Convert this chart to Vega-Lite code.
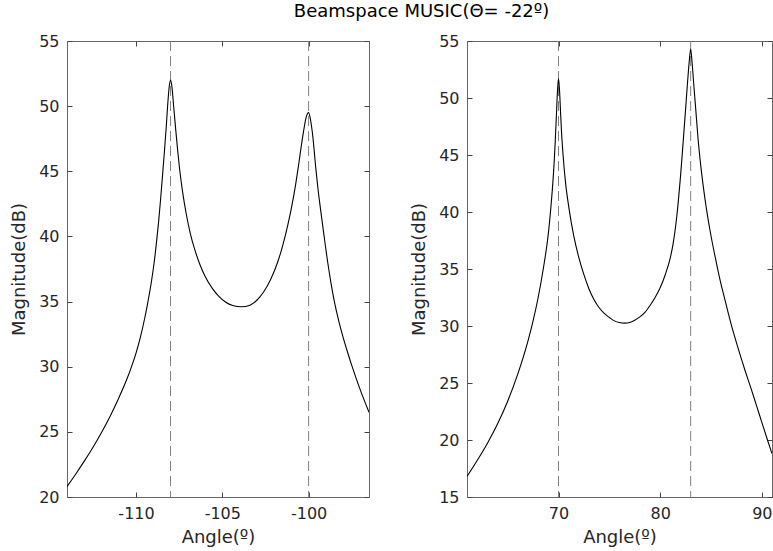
{
  "$schema": "https://vega.github.io/schema/vega-lite/v6.json",
  "background": "white",
  "padding": {"left": 10, "top": 2, "right": 2, "bottom": 0},
  "title": {"text": "Beamspace MUSIC(Θ= -22º)", "fontSize": 18, "font": "DejaVu Sans", "fontWeight": "normal", "color": "#000000", "anchor": "middle", "dx": 30, "offset": 12},
  "config": {
    "view": {"stroke": "#666666", "strokeWidth": 1},
    "concat": {"spacing": 40},
    "axis": {"grid": false, "domain": false, "labelFont": "DejaVu Sans", "labelFontSize": 16, "labelColor": "#262626", "titleFont": "DejaVu Sans", "titleFontSize": 18, "titleFontWeight": "normal", "titleColor": "#262626", "tickColor": "#444444", "tickSize": 5, "offset": -5, "labelFlush": false, "labelOverlap": false, "labelPadding": 8, "titlePadding": 10},
    "axisX": {"titlePadding": 7}
  },
  "datasets": {
    "left": [
      {"angle": -114.0, "mag": 20.8}, {"angle": -113.5, "mag": 21.75}, {"angle": -113.0, "mag": 22.75}, {"angle": -112.5, "mag": 23.8},
      {"angle": -112.0, "mag": 24.95}, {"angle": -111.5, "mag": 26.2}, {"angle": -111.0, "mag": 27.6}, {"angle": -110.5, "mag": 29.15},
      {"angle": -110.25, "mag": 30.05}, {"angle": -110.0, "mag": 31.05}, {"angle": -109.75, "mag": 32.25}, {"angle": -109.5, "mag": 33.7},
      {"angle": -109.33, "mag": 34.85}, {"angle": -109.1, "mag": 36.6}, {"angle": -108.95, "mag": 38.0}, {"angle": -108.81, "mag": 39.6},
      {"angle": -108.7, "mag": 41.0}, {"angle": -108.58, "mag": 42.8}, {"angle": -108.46, "mag": 44.75}, {"angle": -108.35, "mag": 46.6},
      {"angle": -108.25, "mag": 48.4}, {"angle": -108.17, "mag": 50.0}, {"angle": -108.08, "mag": 51.45}, {"angle": -108.0, "mag": 52.0},
      {"angle": -107.92, "mag": 51.5}, {"angle": -107.82, "mag": 50.0}, {"angle": -107.7, "mag": 48.2}, {"angle": -107.58, "mag": 46.5},
      {"angle": -107.46, "mag": 45.0}, {"angle": -107.3, "mag": 43.4}, {"angle": -107.1, "mag": 41.8}, {"angle": -106.85, "mag": 40.2},
      {"angle": -106.6, "mag": 39.0}, {"angle": -106.3, "mag": 37.85}, {"angle": -106.0, "mag": 36.95}, {"angle": -105.6, "mag": 36.05},
      {"angle": -105.2, "mag": 35.4}, {"angle": -104.8, "mag": 34.95}, {"angle": -104.4, "mag": 34.7}, {"angle": -103.9, "mag": 34.6},
      {"angle": -103.4, "mag": 34.72}, {"angle": -103.0, "mag": 35.1}, {"angle": -102.6, "mag": 35.75}, {"angle": -102.2, "mag": 36.7},
      {"angle": -101.8, "mag": 38.0}, {"angle": -101.5, "mag": 39.3}, {"angle": -101.2, "mag": 40.9}, {"angle": -100.95, "mag": 42.5},
      {"angle": -100.75, "mag": 44.0}, {"angle": -100.6, "mag": 45.3}, {"angle": -100.45, "mag": 46.7}, {"angle": -100.3, "mag": 48.0},
      {"angle": -100.15, "mag": 49.1}, {"angle": -100.0, "mag": 49.5}, {"angle": -99.88, "mag": 48.9}, {"angle": -99.75, "mag": 47.6},
      {"angle": -99.58, "mag": 45.2}, {"angle": -99.46, "mag": 43.7}, {"angle": -99.3, "mag": 42.0}, {"angle": -99.1, "mag": 40.0},
      {"angle": -98.88, "mag": 37.9}, {"angle": -98.7, "mag": 36.4}, {"angle": -98.5, "mag": 34.95}, {"angle": -98.25, "mag": 33.5},
      {"angle": -98.0, "mag": 32.25}, {"angle": -97.75, "mag": 31.15}, {"angle": -97.5, "mag": 30.1}, {"angle": -97.0, "mag": 28.2},
      {"angle": -96.5, "mag": 26.5}
    ],
    "right": [
      {"angle": 61.0, "mag": 16.8}, {"angle": 62.0, "mag": 18.2}, {"angle": 63.0, "mag": 19.7}, {"angle": 64.0, "mag": 21.4},
      {"angle": 65.0, "mag": 23.4}, {"angle": 66.0, "mag": 25.8}, {"angle": 67.0, "mag": 28.7}, {"angle": 67.5, "mag": 30.45},
      {"angle": 68.0, "mag": 32.5}, {"angle": 68.5, "mag": 35.0}, {"angle": 69.0, "mag": 38.1}, {"angle": 69.25, "mag": 40.4},
      {"angle": 69.5, "mag": 43.3}, {"angle": 69.6, "mag": 44.8}, {"angle": 69.7, "mag": 46.6}, {"angle": 69.8, "mag": 48.6},
      {"angle": 69.9, "mag": 50.6}, {"angle": 70.0, "mag": 51.7}, {"angle": 70.1, "mag": 50.7}, {"angle": 70.2, "mag": 48.8},
      {"angle": 70.3, "mag": 47.0}, {"angle": 70.45, "mag": 45.0}, {"angle": 70.69, "mag": 42.6}, {"angle": 71.0, "mag": 40.5},
      {"angle": 71.5, "mag": 37.9}, {"angle": 72.0, "mag": 36.0}, {"angle": 72.5, "mag": 34.5}, {"angle": 73.0, "mag": 33.25},
      {"angle": 73.5, "mag": 32.3}, {"angle": 74.0, "mag": 31.6}, {"angle": 74.5, "mag": 31.1}, {"angle": 75.0, "mag": 30.75},
      {"angle": 75.5, "mag": 30.45}, {"angle": 76.0, "mag": 30.3}, {"angle": 76.5, "mag": 30.25}, {"angle": 77.0, "mag": 30.3},
      {"angle": 77.5, "mag": 30.5}, {"angle": 78.0, "mag": 30.8}, {"angle": 78.5, "mag": 31.2}, {"angle": 79.0, "mag": 31.8},
      {"angle": 79.5, "mag": 32.5}, {"angle": 80.0, "mag": 33.35}, {"angle": 80.5, "mag": 34.5}, {"angle": 81.0, "mag": 36.0},
      {"angle": 81.25, "mag": 37.1}, {"angle": 81.5, "mag": 38.6}, {"angle": 81.75, "mag": 40.6}, {"angle": 82.0, "mag": 43.1},
      {"angle": 82.25, "mag": 46.0}, {"angle": 82.5, "mag": 49.0}, {"angle": 82.67, "mag": 51.1}, {"angle": 82.85, "mag": 53.1},
      {"angle": 83.0, "mag": 54.3}, {"angle": 83.15, "mag": 53.0}, {"angle": 83.33, "mag": 50.9}, {"angle": 83.5, "mag": 49.0},
      {"angle": 83.73, "mag": 46.4}, {"angle": 84.0, "mag": 44.0}, {"angle": 84.4, "mag": 41.2}, {"angle": 84.9, "mag": 38.4},
      {"angle": 85.4, "mag": 36.1}, {"angle": 85.9, "mag": 34.0}, {"angle": 86.4, "mag": 32.2}, {"angle": 87.0, "mag": 30.1},
      {"angle": 87.7, "mag": 27.95}, {"angle": 88.35, "mag": 26.1}, {"angle": 89.0, "mag": 24.35}, {"angle": 89.5, "mag": 22.95},
      {"angle": 90.0, "mag": 21.55}, {"angle": 90.5, "mag": 20.15}, {"angle": 91.0, "mag": 18.8}
    ],
    "leftPeaks": [{"angle": -108}, {"angle": -100}],
    "rightPeaks": [{"angle": 70}, {"angle": 83}]
  },
  "hconcat": [
    {
      "width": 302, "height": 456,
      "layer": [
        {
          "data": {"name": "leftPeaks"},
          "mark": {"type": "rule", "color": "#808080", "strokeDash": [10, 5], "strokeWidth": 1},
          "encoding": {"x": {"field": "angle", "type": "quantitative", "scale": {"domain": [-114, -96.5], "nice": false, "zero": false}, "axis": null}}
        },
        {
          "data": {"name": "left"},
          "mark": {"type": "line", "strokeOpacity": 0},
          "encoding": {
            "x": {"field": "angle", "type": "quantitative", "axis": {"orient": "top", "values": [-110, -105, -100], "labels": false, "title": null}},
            "y": {"field": "mag", "type": "quantitative", "scale": {"domain": [20, 55], "nice": false, "zero": false}, "axis": {"orient": "right", "values": [20, 25, 30, 35, 40, 45, 50, 55], "labels": false, "title": null}}
          }
        },
        {
          "data": {"name": "left"},
          "mark": {"type": "line", "color": "#000000", "strokeWidth": 1.1, "interpolate": "monotone", "clip": true},
          "encoding": {
            "x": {"field": "angle", "type": "quantitative", "axis": {"orient": "bottom", "values": [-110, -105, -100], "title": "Angle(º)", "labelExpr": "'' + datum.value"}},
            "y": {"field": "mag", "type": "quantitative", "axis": {"orient": "left", "values": [20, 25, 30, 35, 40, 45, 50, 55], "title": "Magnitude(dB)"}}
          }
        }
      ],
      "resolve": {"axis": {"x": "independent", "y": "independent"}}
    },
    {
      "width": 305, "height": 456,
      "layer": [
        {
          "data": {"name": "rightPeaks"},
          "mark": {"type": "rule", "color": "#808080", "strokeDash": [10, 5], "strokeWidth": 1},
          "encoding": {"x": {"field": "angle", "type": "quantitative", "scale": {"domain": [61, 91], "nice": false, "zero": false}, "axis": null}}
        },
        {
          "data": {"name": "right"},
          "mark": {"type": "line", "strokeOpacity": 0},
          "encoding": {
            "x": {"field": "angle", "type": "quantitative", "axis": {"orient": "top", "values": [70, 80, 90], "labels": false, "title": null}},
            "y": {"field": "mag", "type": "quantitative", "scale": {"domain": [15, 55], "nice": false, "zero": false}, "axis": {"orient": "right", "values": [15, 20, 25, 30, 35, 40, 45, 50, 55], "labels": false, "title": null}}
          }
        },
        {
          "data": {"name": "right"},
          "mark": {"type": "line", "color": "#000000", "strokeWidth": 1.1, "interpolate": "monotone", "clip": true},
          "encoding": {
            "x": {"field": "angle", "type": "quantitative", "axis": {"orient": "bottom", "values": [70, 80, 90], "title": "Angle(º)", "labelExpr": "'' + datum.value"}},
            "y": {"field": "mag", "type": "quantitative", "axis": {"orient": "left", "values": [15, 20, 25, 30, 35, 40, 45, 50, 55], "title": "Magnitude(dB)"}}
          }
        }
      ],
      "resolve": {"axis": {"x": "independent", "y": "independent"}}
    }
  ]
}
